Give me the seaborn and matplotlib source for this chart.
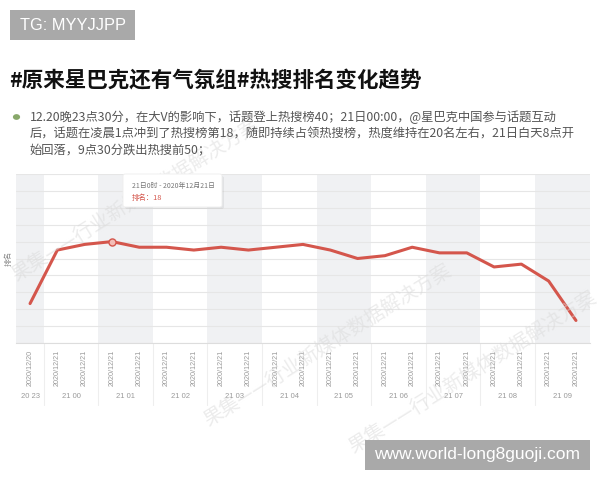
import numpy as np
import pandas as pd
import matplotlib
matplotlib.use("Agg")
import matplotlib.pyplot as plt
from matplotlib.patches import FancyBboxPatch, Rectangle
from matplotlib.transforms import blended_transform_factory
import seaborn as sns

# ---------------- data ----------------
tick_labels = ["2020/12/20"] + ["2020/12/21"] * 20
ranks = [40, 21, 19, 18, 20, 20, 21, 20, 21, 20, 19, 21, 24, 23, 20, 22, 22, 27, 26, 32, 46]
hour_groups = ["20 23", "21 00", "21 01", "21 02", "21 03", "21 04",
               "21 05", "21 06", "21 07", "21 08", "21 09"]
highlight_index = 3
tooltip_title = "21日0时 - 2020年12月21日"
tooltip_value = "排名：18"
title = "#原来星巴克还有气氛组#热搜排名变化趋势"
desc_lines = [
    "12.20晚23点30分，在大V的影响下，话题登上热搜榜40；21日00:00，@星巴克中国参与话题互动",
    "后，话题在凌晨1点冲到了热搜榜第18，随即持续占领热搜榜，热度维持在20名左右，21日白天8点开",
    "始回落，9点30分跌出热搜前50；",
]
watermark = "果集——行业新媒体数据解决方案"

df = pd.DataFrame({"pos": np.arange(len(ranks)), "rank": ranks, "label": tick_labels})

# ---------------- style ----------------
sns.set_theme(style="white")
plt.rcParams["font.family"] = ["Noto Sans CJK SC", "DejaVu Sans"]

W, H = 600, 480
fig = plt.figure(figsize=(6, 4.8), dpi=100)
fig.patch.set_facecolor("white")

def fx(px):
    return px / W

def fy(py):
    return 1 - py / H

# watermarks (behind everything)
for (x, y) in [(8, 200), (200, 345), (345, 372)]:
    fig.text(fx(x), fy(y), watermark, fontsize=14, color="#d9d9d9", alpha=0.5,
             rotation=32, ha="left", va="center", zorder=0)

# TG box
fig.patches.append(Rectangle((fx(10), fy(40)), fx(125), 30 / H, transform=fig.transFigure,
                             facecolor="#a9a9a9", edgecolor="none", zorder=1))
fig.text(fx(20), fy(25.5), "TG: MYYJJPP", fontsize=11.8, color="white",
         family=["Liberation Sans", "DejaVu Sans"], va="center", ha="left", zorder=2)

# Title
fig.text(fx(9), fy(80), title, fontsize=15.5, fontweight="bold", color="#111111",
         va="center", ha="left")

# bullet + description
fig.patches.append(plt.Circle((fx(16.5), fy(117)), 3.6 / W, transform=fig.transFigure,
                              facecolor="#88a86a", edgecolor="none"))
for i, line in enumerate(desc_lines):
    fig.text(fx(30), fy(117 + 17 * i), line, fontsize=8.85, color="#555555",
             va="center", ha="left")

# ---------------- chart ----------------
ax = fig.add_axes([fx(16.4), fy(343), fx(573.2), 169 / H])
ax.set_facecolor("white")
ax.set_xlim(-0.5, len(ranks) - 0.5)
ax.set_ylim(54, -6)

# alternating hour bands
for k in range(len(hour_groups)):
    if k == 0:
        a, b = -0.5, 0.5
    else:
        a, b = 2 * k - 1.5, 2 * k + 0.5
    if k % 2 == 0:
        ax.axvspan(a, b, color="#f0f1f3", zorder=0, lw=0)

# grid lines
for yv in np.linspace(-6, 54, 11):
    ax.axhline(yv, color="#e6e6e6", lw=0.8, zorder=1)

sns.lineplot(data=df, x="pos", y="rank", ax=ax, color="#d4564c", linewidth=2.2,
             zorder=3, legend=False)
hl = df.iloc[[highlight_index]]
sns.scatterplot(data=hl, x="pos", y="rank", ax=ax, s=26, color="#f3bdb7",
                edgecolor="#d4564c", linewidth=1.0, zorder=4, legend=False)

ax.set_xticks(df["pos"])
ax.set_xticklabels(df["label"], rotation=90, fontsize=5.2, color="#9a9a9a",
                   family=["Liberation Sans", "DejaVu Sans"])
ax.tick_params(axis="x", length=0, pad=5)
ax.set_yticks([])
ax.set_xlabel("")
ax.set_ylabel("排名", fontsize=5.5, color="#888888", labelpad=3)
for s in ["top", "right", "left"]:
    ax.spines[s].set_visible(False)
ax.spines["bottom"].set_color("#dddddd")
ax.spines["bottom"].set_linewidth(0.8)

# hour group labels and separators
tr = blended_transform_factory(ax.transData, fig.transFigure)
for k, g in enumerate(hour_groups):
    cx = 0 if k == 0 else 2 * k - 0.5
    ax.text(cx, fy(397), g, transform=tr, fontsize=5.5, color="#9a9a9a",
            ha="center", va="center", family=["Liberation Sans", "DejaVu Sans"])
    if k > 0:
        bx = 2 * k - 1.5
        ax.plot([bx, bx], [fy(343), fy(405)], transform=tr, color="#eeeeee",
                lw=0.8, clip_on=False, zorder=0)

# tooltip
shadow = FancyBboxPatch((fx(125), fy(209)), fx(99), 33 / H, transform=fig.transFigure,
                        boxstyle="round,pad=0,rounding_size=0.004",
                        facecolor="#000000", alpha=0.06, edgecolor="none", zorder=5)
box = FancyBboxPatch((fx(123), fy(207)), fx(99), 33 / H, transform=fig.transFigure,
                     boxstyle="round,pad=0,rounding_size=0.004",
                     facecolor="white", edgecolor="#eeeeee", lw=0.6, zorder=6)
fig.patches.extend([shadow, box])
fig.text(fx(132), fy(186), tooltip_title, fontsize=5, color="#777777",
         va="center", ha="left", zorder=7)
fig.text(fx(132), fy(198), tooltip_value, fontsize=5.3, color="#d4564c",
         va="center", ha="left", zorder=7)

# bottom-right box
fig.patches.append(Rectangle((fx(365), fy(470)), fx(225), 30 / H, transform=fig.transFigure,
                             facecolor="#a9a9a9", edgecolor="none", zorder=1))
fig.text(fx(477.5), fy(455), "www.world-long8guoji.com", fontsize=12.5, color="white",
         family=["Liberation Sans", "DejaVu Sans"], va="center", ha="center", zorder=2)

fig.savefig("out.png", dpi=100, facecolor="white")
